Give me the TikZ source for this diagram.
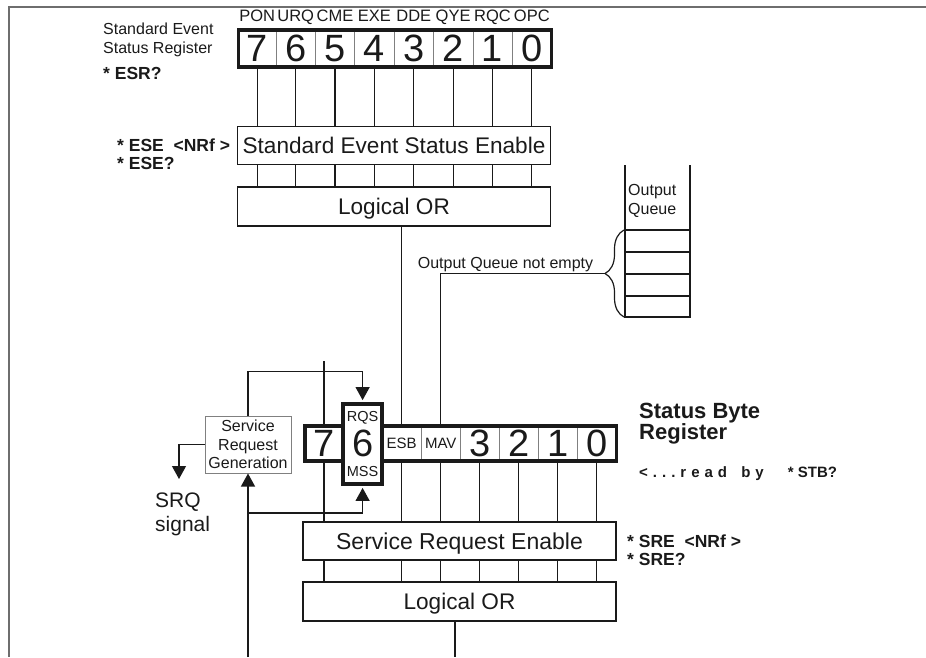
\documentclass[tikz,border=0pt]{standalone}
\usepackage{fontspec}
\setmainfont{Liberation Sans}
\usetikzlibrary{arrows.meta,decorations.pathreplacing}
\definecolor{ink}{HTML}{1A1A1A}
\definecolor{divgray}{HTML}{808080}
\definecolor{framegray}{HTML}{6E6E6E}
\newcommand{\lsp}{\kern5pt}
\begin{document}
\begin{tikzpicture}[x=1pt,y=-1pt, line join=miter,
  ln/.style={draw=ink, line width=1.2pt},
  arr/.style={-{Triangle[width=14pt,length=13pt]}},
  divl/.style={draw=divgray, line width=0.9pt},
  thickreg/.style={draw=ink, line width=3.8pt},
  bigbox/.style={draw=ink, line width=1.3pt, inner sep=0pt, text depth=0pt},
  cell/.style={inner sep=0pt, minimum height=37pt, font=\fontsize{38}{38}\selectfont, text=ink},
  tx/.style={inner sep=0pt, text=ink, font=\fontsize{#1}{#1}\selectfont},
  bx/.style={inner sep=0pt, text=ink, font=\fontsize{#1}{#1}\selectfont\bfseries},
]
\useasboundingbox (0,0) rectangle (926,657);
\draw[draw=framegray, line width=1.6pt] (926,7) -- (9,7) -- (9,657);

% ---------- Standard Event Status Register ----------
\node[cell, minimum width=37.5pt] (e7) at (257.25,48.5) {7};
\foreach \b/\k in {6/1,5/2,4/3,3/4,2/5,1/6,0/7}
  \node[cell, minimum width=39.36pt] (e\b) at ({295.68+39.36*(\k-1)},48.5) {\b};
\foreach \b/\t in {7/PON,6/URQ,5/CME,4/EXE,3/DDE,2/QYE,1/RQC,0/OPC}
  \path (e\b.center) ++(0,-27.3) node[tx=16.5, anchor=base] (l\b) {\t};
\foreach \b in {7,6,5,4,3,2,1}
  \draw[divl] (e\b.north east) -- (e\b.south east);

\node[bigbox, tx=22.6, text height=16.5pt, minimum width=313pt, minimum height=38pt] (ese) at (394,145.5) {Standard Event Status Enable};
\node[bigbox, tx=22.6, text height=16.5pt, minimum width=313pt, minimum height=39pt] (lor1) at (394,206.5) {Logical OR};

\foreach \b in {7,6,5,4,3,2,1,0}{
  \draw[ln] (e\b.south) -- (e\b.south |- ese.north);
  \draw[ln] (e\b.south |- ese.south) -- (e\b.south |- lor1.north);
}
\node[thickreg, minimum width=313pt, minimum height=37pt, inner sep=0pt] (esr) at (395,48.5) {};

\node[tx=16, anchor=base west] (ser1) at (103,34.7) {Standard Event};
\node[tx=16, anchor=base west] (ser2) at (103,53.7) {Status Register};
\node[bx=17.5, anchor=base west] (esrq) at (103,79.3) {* ESR?};
\node[bx=17.5, anchor=base west] (esecmd) at (117,151.3) {* ESE\ \ <NRf >};
\node[bx=17.5, anchor=base west] (eseq) at (117,169.3) {* ESE?};

% ---------- Output Queue ----------
\draw[ln] (625,165) -- (625,317) -- (690,317) -- (690,165);
\foreach \yy in {230,252,274,296} \draw[ln] (625,\yy) -- (690,\yy);
\node[tx=16, anchor=base west] (oq1) at (628,195.7) {Output};
\node[tx=16, anchor=base west] (oq2) at (628,214.7) {Queue};
\draw[ln, decorate, decoration={brace, amplitude=19pt}] (624,317) -- (624,230);
\coordinate (bt) at (605,273.5);
\node[tx=16, anchor=base] (oqne) at (505.5,268.7) {Output Queue not empty};

% ---------- Status Byte Register ----------
\node[cell, minimum width=38pt, minimum height=35pt] (sb0) at (324,443.5) {7};
\node[cell, minimum width=39.2pt, minimum height=35pt] (sb1) at (362.6,443.5) {6};
\node[cell, tx=15, minimum width=39pt, minimum height=35pt] (sb2) at (401.7,443.5) {ESB};
\node[cell, tx=15, minimum width=39pt, minimum height=35pt] (sb3) at (440.7,443.5) {MAV};
\foreach \k/\d in {4/3,5/2,6/1,7/0}
  \node[cell, minimum width=39pt, minimum height=35pt] (sb\k) at ({401.7+39*(\k-2)},443.5) {\d};
\foreach \k in {2,...,6}
  \draw[divl] (sb\k.north east) -- (sb\k.south east);

\node[bigbox, tx=23, text height=16.8pt, minimum width=313pt, minimum height=38pt] (sre) at (459.5,541) {Service Request Enable};
\node[bigbox, tx=22.6, text height=16.5pt, minimum width=313pt, minimum height=39pt] (lor2) at (459.5,601.5) {Logical OR};

\foreach \k in {0,2,3,4,5,6,7}{
  \draw[ln] (sb\k.south) -- (sb\k.south |- sre.north);
  \draw[ln] (sb\k.south |- sre.south) -- (sb\k.south |- lor2.north);
}
\coordinate (out2) at (455,657);
\draw[ln] (lor2.south -| out2) -- (out2);

% inputs from above
\draw[ln] (lor1.south -| sb2.north) -- (sb2.north);
\draw[ln] (bt) -| (sb3.north);
\coordinate (in7) at (324,361);
\draw[ln] (in7) -- (sb0.north);

% Service Request Generation
\node[draw=divgray, line width=1pt, minimum width=86pt, minimum height=57pt, inner sep=0pt,
      align=center, font=\fontsize{16}{18.5}\selectfont, text=ink] (srg) at (248,444.5) {Service\\Request\\Generation};

\node[thickreg, minimum width=39.2pt, minimum height=80pt, inner sep=0pt] (sx) at (362.6,444) {};
\draw[thickreg] (sx.west |- sb0.north) -- (sb0.north west) -- (sb0.south west) -- (sx.west |- sb0.south);
\draw[thickreg] (sx.east |- sb7.north) -- (sb7.north east) -- (sb7.south east) -- (sx.east |- sb7.south);
\node[tx=14.5, anchor=base] (rqs) at (362.6,421.5) {RQS};
\node[tx=14.5, anchor=base] (mss) at (362.6,476) {MSS};

\draw[ln, arr, shorten >=2pt] (srg.north) |- ([yshift=31pt]sx.north) -- (sx.north);
\coordinate (srcin) at (248,657);
\draw[ln, arr] (srcin) -- (srg.south);
\coordinate (br) at (248,513);
\draw[ln, arr, shorten >=2pt] (br) -| (sx.south);

\coordinate (srqend) at (179,479);
\draw[ln, arr] (srg.west) -| (srqend);
\node[tx=21, anchor=base west] (srq1) at (155,507.5) {SRQ};
\node[tx=21, anchor=base west] (srq2) at (155,531.5) {signal};

% right labels
\node[bx=22, anchor=base west] (sbt1) at (639,418) {Status Byte};
\node[bx=22, anchor=base west] (sbt2) at (639,439.5) {Register};
\node[bx=15, anchor=base west] (stbq) at (639,477.5) {<\lsp.\lsp.\lsp.\lsp r\lsp e\lsp a\lsp d\lsp\ \lsp b\lsp y\hspace{24pt}* STB?};
\node[bx=17.5, anchor=base west] (srecmd) at (627,547) {* SRE\ \ <NRf >};
\node[bx=17.5, anchor=base west] (sreq) at (627,565.3) {* SRE?};
\end{tikzpicture}
\end{document}
